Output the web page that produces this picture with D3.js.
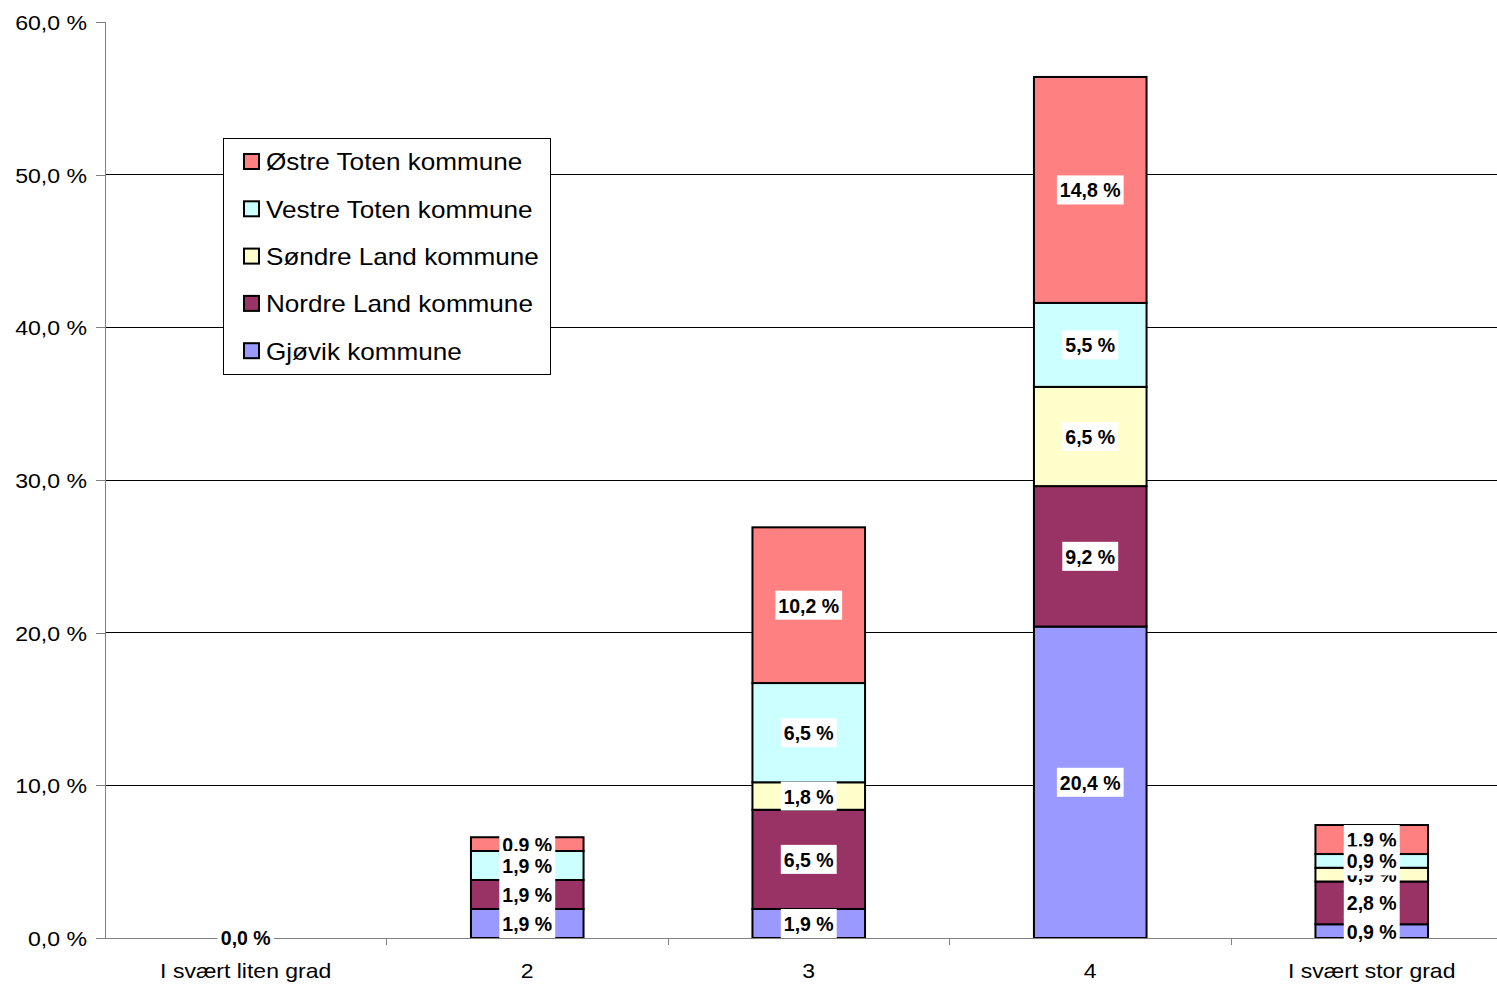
<!DOCTYPE html>
<html>
<head>
<meta charset="utf-8">
<script src="https://cdn.jsdelivr.net/npm/d3@7"></script>
<style>
  html, body { margin: 0; padding: 0; background: #fff; }
  svg { display: block; font-family: "Liberation Sans", Arial, sans-serif; }
</style>
</head>
<body>
<svg id="chart" width="1497" height="985"></svg>
<script>
// Response categories (x axis)
const categories = ["I svært liten grad", "2", "3", "4", "I svært stor grad"];

// Series, bottom to top of each stack
const seriesNames = ["Gjøvik kommune", "Nordre Land kommune", "Søndre Land kommune", "Vestre Toten kommune", "Østre Toten kommune"];
const gjovik      = [0.0, 1.9, 1.9, 20.4, 0.9];
const nordreLand  = [0.0, 1.9, 6.5, 9.2, 2.8];
const sondreLand  = [0.0, 0.0, 1.8, 6.5, 0.9];
const vestreToten = [0.0, 1.9, 6.5, 5.5, 0.9];
const ostreToten  = [0.0, 0.9, 10.2, 14.8, 1.9];
const seriesValues = [gjovik, nordreLand, sondreLand, vestreToten, ostreToten];
const seriesColors = ["#9999FF", "#993366", "#FFFFCC", "#CCFFFF", "#FF8080"];

// Y axis ticks
const yTicks = [0, 10, 20, 30, 40, 50, 60];
// Legend order (top to bottom)
const legendOrder = [4, 3, 2, 1, 0];
// Order in which the value labels are painted
const labelPaintOrder = [0, 1, 2, 4, 3];

const fmt = v => v.toFixed(1).replace(".", ",") + " %";

// Widen a text horizontally around its anchor x
function widen(sel, sx) {
  sel.each(function () {
    const t = d3.select(this);
    const ax = +t.attr("x") || 0;
    t.attr("transform", `matrix(${sx},0,0,1,${(1 - sx) * ax},0)`);
  });
}

const svg = d3.select("#chart");
const plotLeft = 105, plotTop = 22, plotBottom = 938, catStep = 281.5;
const plotRight = plotLeft + catStep * categories.length;

const x = d3.scaleBand().domain(categories).range([plotLeft, plotRight]).paddingInner(0.6).paddingOuter(0.3);
const y = d3.scaleLinear().domain([0, 60]).range([plotBottom, plotTop]);

// Stack the data
const rows = categories.map((c, i) => {
  const r = { cat: c };
  seriesNames.forEach((s, k) => r[s] = seriesValues[k][i]);
  return r;
});
const stacked = d3.stack().keys(seriesNames)(rows);

// Gridlines
svg.append("g")
  .selectAll("line")
  .data(yTicks.filter(t => t > 0 && t < 60))
  .join("line")
  .attr("x1", plotLeft).attr("x2", plotRight)
  .attr("y1", d => y(d)).attr("y2", d => y(d))
  .attr("stroke", "#000").attr("stroke-width", 1).attr("shape-rendering", "crispEdges");

// Y axis
const yAxis = svg.append("g").attr("transform", `translate(${plotLeft},0)`)
  .call(d3.axisLeft(y).tickValues(yTicks).tickSize(9).tickPadding(9).tickFormat(fmt));
yAxis.select(".domain").attr("stroke", "#808080").attr("shape-rendering", "crispEdges");
yAxis.selectAll(".tick line").attr("stroke", "#808080").attr("shape-rendering", "crispEdges");
yAxis.selectAll(".tick text").attr("font-size", 21).attr("fill", "#000").attr("dy", null).attr("y", 7.5)
  .attr("font-family", "Liberation Sans, Arial, sans-serif");
widen(yAxis.selectAll(".tick text"), 1.10);

// Bars
const bars = svg.append("g");
stacked.forEach((layer, k) => {
  bars.append("g").selectAll("rect")
    .data(layer.filter(d => d[1] - d[0] > 0))
    .join("rect")
    .attr("x", d => x(d.data.cat))
    .attr("width", x.bandwidth())
    .attr("y", d => y(d[1]))
    .attr("height", d => y(d[0]) - y(d[1]))
    .attr("fill", seriesColors[k])
    .attr("stroke", "#000").attr("stroke-width", 2);
});

// X axis
const xAxisG = svg.append("g");
xAxisG.append("line").attr("x1", plotLeft).attr("x2", plotRight).attr("y1", plotBottom).attr("y2", plotBottom)
  .attr("stroke", "#808080").attr("shape-rendering", "crispEdges");
xAxisG.selectAll("line.tick")
  .data(d3.range(1, categories.length + 1))
  .join("line").attr("class", "tick")
  .attr("x1", i => plotLeft + i * catStep).attr("x2", i => plotLeft + i * catStep)
  .attr("y1", plotBottom).attr("y2", plotBottom + 7)
  .attr("stroke", "#808080").attr("shape-rendering", "crispEdges");
const catText = xAxisG.selectAll("text")
  .data(categories)
  .join("text")
  .attr("x", d => x(d) + x.bandwidth() / 2)
  .attr("y", 978)
  .attr("text-anchor", "middle")
  .attr("font-size", 20)
  .text(d => d);
widen(catText, 1.15);

// Value labels
const labels = svg.append("g");
labelPaintOrder.forEach(k => {
  const layer = stacked[k];
  layer.forEach((d, i) => {
    const v = seriesValues[k][i];
    const total = d3.sum(seriesValues, s => s[i]);
    if (!(v > 0 || total === 0)) return;
    const cx = x(d.data.cat) + x.bandwidth() / 2;
    const cy = (y(d[0]) + y(d[1])) / 2;
    const g = labels.append("g");
    const t = g.append("text")
      .attr("x", cx).attr("y", cy + 7.5)
      .attr("text-anchor", "middle")
      .attr("font-size", 21).attr("font-weight", "bold")
      .text(fmt(v));
    widen(t, 0.93);
    const bb = t.node().getBBox();
    const w = bb.width * 0.93;
    g.insert("rect", "text")
      .attr("x", cx - w / 2 - 3).attr("width", w + 6)
      .attr("y", cy - 14.5).attr("height", 29)
      .attr("fill", "#fff");
  });
});

// Legend
const lg = svg.append("g");
lg.append("rect").attr("x", 223.5).attr("y", 138.5).attr("width", 327).attr("height", 236)
  .attr("fill", "#fff").attr("stroke", "#000").attr("stroke-width", 1);
legendOrder.forEach((k, j) => {
  const yy = 162 + j * 47.3;
  lg.append("rect").attr("x", 244).attr("y", yy - 8).attr("width", 15).attr("height", 15)
    .attr("fill", seriesColors[k]).attr("stroke", "#000").attr("stroke-width", 2);
  const t = lg.append("text").attr("x", 266).attr("y", yy + 8.5).attr("font-size", 23).text(seriesNames[k]);
  widen(t, 1.135);
});
</script>
</body>
</html>
